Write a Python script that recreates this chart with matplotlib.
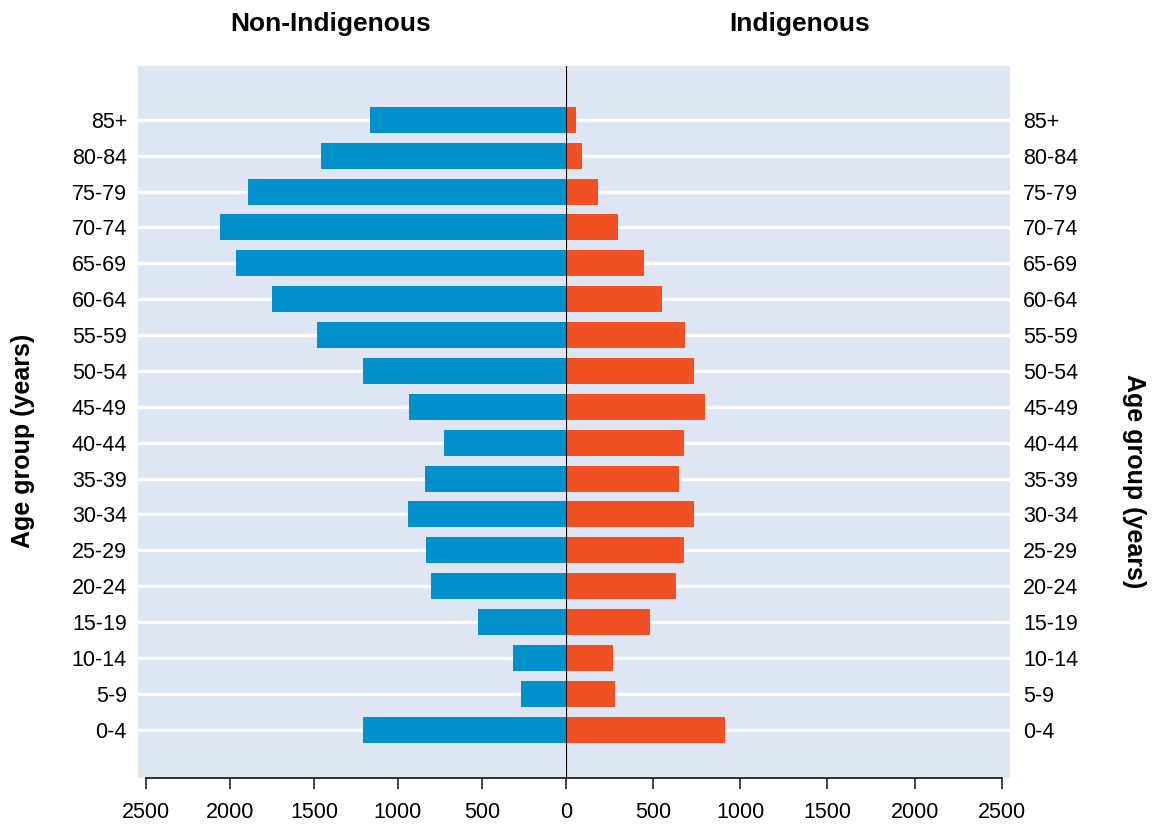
import numpy as np
import matplotlib
matplotlib.use("Agg")
import matplotlib.pyplot as plt

plt.rcParams['font.family'] = ['Liberation Sans', 'DejaVu Sans']

# data, youngest group first
age_groups = ["0-4", "5-9", "10-14", "15-19", "20-24", "25-29", "30-34", "35-39",
              "40-44", "45-49", "50-54", "55-59", "60-64", "65-69", "70-74",
              "75-79", "80-84", "85+"]
non_indigenous = [1210, 270, 317, 526, 805, 835, 942, 841,
                  728, 936, 1210, 1484, 1752, 1966, 2061, 1895, 1460, 1168]
indigenous = [910, 279, 268, 480, 629, 675, 732, 646,
              675, 795, 732, 681, 549, 446, 296, 182, 90, 56]
x_ticks = [0, 500, 1000, 1500, 2000, 2500]

blue = "#0091cd"
orange = "#f15024"
bg = "#dfe6f3"

W, H = 1162, 825
fig = plt.figure(figsize=(W / 100, H / 100), dpi=100)

bottom = (H - 777.7) / H
height = (777.7 - 65.7) / H
ax_l = fig.add_axes([138 / W, bottom, (566 - 138) / W, height])
ax_r = fig.add_axes([566 / W, bottom, (1010 - 566) / W, height])

y = np.arange(len(age_groups))
xmax = 2547

for ax, vals, col in [(ax_l, non_indigenous, blue), (ax_r, indigenous, orange)]:
    ax.set_facecolor(bg)
    ax.set_axisbelow(True)
    ax.barh(y, vals, height=0.725, color=col, zorder=2)
    ax.set_ylim(-1.338, len(age_groups) - 1 + 1.508)
    ax.set_yticks(y)
    ax.set_yticklabels(age_groups, fontsize=15.5)
    ax.grid(axis='y', color='white', linewidth=2.4)
    for s in ["top", "left", "right"]:
        ax.spines[s].set_visible(False)
    ax.spines["bottom"].set_bounds(0, 2500)
    ax.spines["bottom"].set_linewidth(1.3)
    ax.spines["bottom"].set_color("#222222")
    ax.tick_params(axis='x', direction='out', length=8, width=1.2,
                   color="#222222", labelsize=15.5, pad=9.5)

ax_l.set_xlim(xmax, 0)
ax_l.set_xticks(x_ticks)
ax_l.tick_params(axis='y', length=0, pad=8)

ax_r.set_xlim(0, xmax)
ax_r.set_xticks(x_ticks[1:])
ax_r.yaxis.tick_right()
ax_r.tick_params(axis='y', length=0, pad=9.5)

# centre line
ax_r.axvline(0, color="black", linewidth=1.5, zorder=3)

fig.text(331 / W, (H - 30.5) / H, "Non-Indigenous", fontsize=19,
         fontweight='bold', ha='center', va='baseline')
fig.text(800 / W, (H - 30.5) / H, "Indigenous", fontsize=19,
         fontweight='bold', ha='center', va='baseline')
fig.text(23 / W, (H - 441) / H, "Age group (years)", fontsize=18,
         fontweight='bold', rotation=90, ha='center', va='center')
fig.text(1134 / W, (H - 481) / H, "Age group (years)", fontsize=18,
         fontweight='bold', rotation=270, ha='center', va='center')

fig.savefig("out.png", dpi=100)
